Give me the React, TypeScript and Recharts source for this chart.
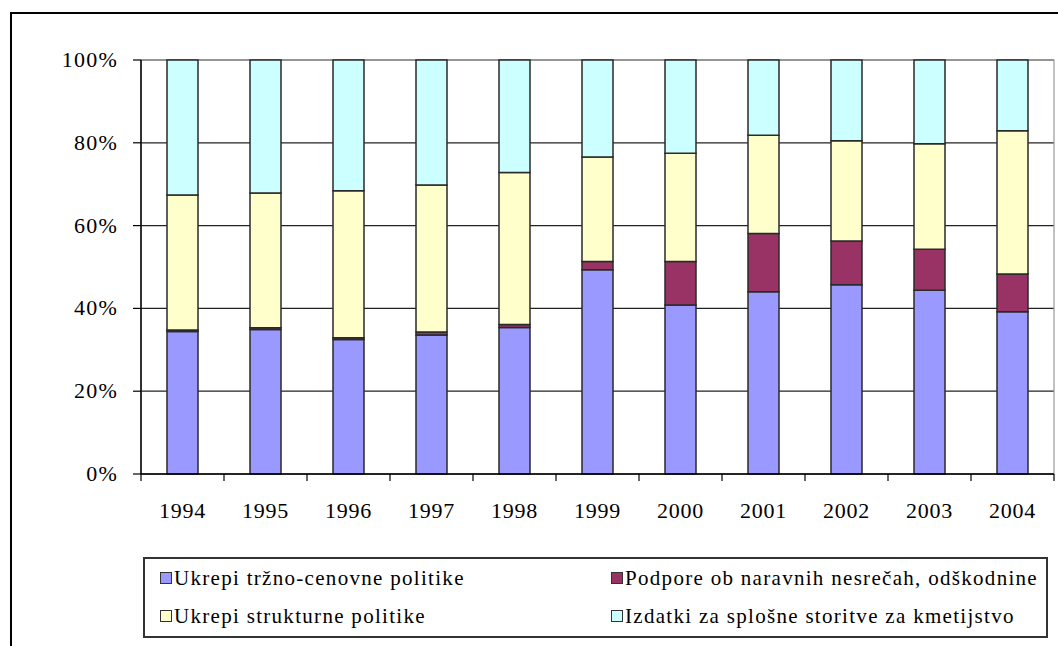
import React from 'react';
import { BarChart, Bar, XAxis, YAxis, CartesianGrid, ReferenceArea } from 'recharts';

const years = ['1994', '1995', '1996', '1997', '1998', '1999', '2000', '2001', '2002', '2003', '2004'];
const trznoCenovne = [34.4, 34.9, 32.5, 33.6, 35.4, 49.3, 40.8, 44.0, 45.7, 44.4, 39.2];
const nesrece = [0.4, 0.4, 0.4, 0.7, 0.7, 2.0, 10.5, 14.1, 10.6, 9.9, 9.1];
const strukturne = [32.6, 32.6, 35.5, 35.5, 36.7, 25.2, 26.2, 23.7, 24.2, 25.5, 34.6];
const storitve = [32.6, 32.1, 31.6, 30.2, 27.2, 23.4, 22.5, 18.2, 19.5, 20.2, 17.1];
const yTicks = [0, 0.2, 0.4, 0.6, 0.8, 1];

const seriesNames = [
  'Ukrepi tržno-cenovne politike',
  'Podpore ob naravnih nesrečah, odškodnine',
  'Ukrepi strukturne politike',
  'Izdatki za splošne storitve za kmetijstvo',
];
const seriesKeys = ['trzno', 'nesrece', 'strukturne', 'storitve'];
const seriesColors = ['#9999FF', '#993366', '#FFFFCC', '#CCFFFF'];

const data = years.map((y, i) => ({
  year: y,
  trzno: trznoCenovne[i],
  nesrece: nesrece[i],
  strukturne: strukturne[i],
  storitve: storitve[i],
}));

const W = 1058;
const H = 646;
const LEFT = 141;
const RIGHT = 4;
const TOP = 60;
const XAXIS_H = 172;
const STEP = (W - LEFT - RIGHT) / years.length;
const FONT = "'Liberation Serif', serif";

const XTick = (props: any) => {
  const { x, y, payload, index } = props;
  const last = index === years.length - 1;
  return (
    <g>
      <line x1={x - STEP / 2} x2={x - STEP / 2} y1={y} y2={y + 7} stroke="#000" strokeWidth={1.2} />
      {last && <line x1={x + STEP / 2} x2={x + STEP / 2} y1={y} y2={y + 7} stroke="#000" strokeWidth={1.2} />}
      <text
        x={x}
        y={y + 44}
        textAnchor="middle"
        fill="#000"
        style={{ fontFamily: FONT, fontSize: 22, letterSpacing: 0.8 }}
      >
        {payload.value}
      </text>
    </g>
  );
};

const YTick = (props: any) => {
  const { x, y, payload } = props;
  return (
    <text
      x={x}
      y={y + 7}
      textAnchor="end"
      fill="#000"
      style={{ fontFamily: FONT, fontSize: 22, letterSpacing: 1.2 }}
    >
      {`${Math.round(payload.value * 100)}%`}
    </text>
  );
};

const legendOrder = [0, 1, 2, 3];

export default function App() {
  return (
    <div style={{ position: 'absolute', left: 0, top: 0, width: W, height: H, overflow: 'hidden', background: '#fff' }}>
      <div
        style={{
          position: 'absolute',
          left: 10,
          top: 12,
          width: W,
          height: H,
          borderLeft: '2px solid #000',
          borderTop: '2px solid #000',
        }}
      />
      <div style={{ position: 'absolute', left: 0, top: 0 }}>
        <BarChart
          width={W}
          height={H}
          data={data}
          stackOffset="expand"
          margin={{ top: TOP, right: RIGHT, left: 0, bottom: 0 }}
          barCategoryGap={0}
        >
          <CartesianGrid vertical={false} stroke="#222" strokeWidth={1.2} />
          <ReferenceArea x1="1994" x2="2004" y1={0} y2={1} stroke="#9a9a9a" strokeWidth={1.2} fill="none" />
          <YAxis
            width={LEFT}
            domain={[0, 1]}
            ticks={yTicks}
            tick={<YTick />}
            axisLine={{ stroke: '#000', strokeWidth: 1.5 }}
            tickLine={{ stroke: '#000', strokeWidth: 1.2 }}
            tickSize={8}
            tickMargin={15}
          />
          <XAxis
            dataKey="year"
            height={XAXIS_H}
            tick={<XTick />}
            tickLine={false}
            tickSize={0}
            tickMargin={0}
            axisLine={{ stroke: '#000', strokeWidth: 1.5 }}
            interval={0}
          />
          {seriesKeys.map((k, i) => (
            <Bar
              key={k}
              dataKey={k}
              name={seriesNames[i]}
              stackId="a"
              fill={seriesColors[i]}
              stroke="#2a2a2a"
              strokeWidth={1.5}
              barSize={31}
              isAnimationActive={false}
            />
          ))}
        </BarChart>
      </div>
      <div
        style={{
          position: 'absolute',
          left: 143,
          top: 557,
          width: 905,
          height: 81,
          border: '2px solid #333',
          boxSizing: 'border-box',
        }}
      >
        {legendOrder.map((si, j) => {
          const col = j % 2;
          const row = Math.floor(j / 2);
          return (
            <div
              key={si}
              style={{
                position: 'absolute',
                left: col === 0 ? 15 : 466,
                top: row === 0 ? 6 : 44,
                display: 'flex',
                alignItems: 'center',
                whiteSpace: 'nowrap',
                height: 26,
              }}
            >
              <span
                style={{
                  display: 'inline-block',
                  width: 10,
                  height: 10,
                  background: seriesColors[si],
                  border: '1.5px solid #333',
                  marginRight: 2,
                }}
              />
              <span style={{ fontFamily: FONT, fontSize: 21, letterSpacing: 1.3, color: '#000' }}>
                {seriesNames[si]}
              </span>
            </div>
          );
        })}
      </div>
    </div>
  );
}
